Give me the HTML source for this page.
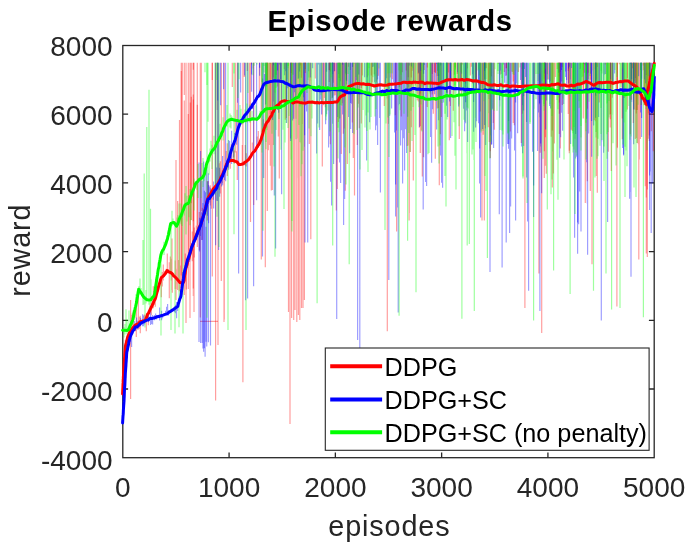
<!DOCTYPE html>
<html><head><meta charset="utf-8"><style>
html,body{margin:0;padding:0;background:#fff;}
body{width:692px;height:545px;overflow:hidden;position:relative;}
svg{position:absolute;left:0;top:0;will-change:transform;}
text{font-family:"Liberation Sans",sans-serif;}
</style></head><body>
<svg width="692" height="545" viewBox="0 0 692 545">
<rect x="0" y="0" width="692" height="545" fill="#fff"/>
<defs><filter id="bl" x="0" y="0" width="1" height="1"><feGaussianBlur stdDeviation="0.75 0.2"/></filter><clipPath id="c"><rect x="122.8" y="45.5" width="531.40" height="412.20"/></clipPath></defs>
<rect x="122.8" y="45.5" width="531.40" height="412.20" fill="none" stroke="#262626" stroke-width="1.3"/>
<path d="M229.08 457.70V452.40M229.08 45.50V50.80M335.36 457.70V452.40M335.36 45.50V50.80M441.64 457.70V452.40M441.64 45.50V50.80M547.92 457.70V452.40M547.92 45.50V50.80M122.80 389.00H128.10M654.20 389.00H648.90M122.80 320.30H128.10M654.20 320.30H648.90M122.80 251.60H128.10M654.20 251.60H648.90M122.80 182.90H128.10M654.20 182.90H648.90M122.80 114.20H128.10M654.20 114.20H648.90" stroke="#262626" stroke-width="1.3" fill="none"/>
<g clip-path="url(#c)"><g filter="url(#bl)" fill="none" stroke-width="1.2">
<path stroke="#f00" stroke-opacity="0.38" d="M123.3 370.4V384.1M124.3 357.1V371.8M125.3 340.0V353.1M126.3 341.7V345.9M129.3 332.1V334.4M130.3 330.1V334.7M131.3 314.9V335.5M132.3 313.6V328.1M133.3 312.2V327.3M135.3 324.7V331.2M136.3 307.6V337.0M137.3 323.7V324.2M138.3 296.5V329.5M139.3 316.7V328.8M140.3 315.8V333.3M142.3 319.6V322.7M144.3 314.6V322.1M145.3 317.5V321.3M146.3 315.8V331.3M148.3 310.7V325.2M150.3 305.8V309.6M151.3 302.8V315.2M152.3 301.6V306.8M153.3 286.3V308.2M154.3 296.6V304.9M155.3 294.5V306.7M156.3 288.3V297.5M159.3 282.5V285.6M161.3 277.1V297.2M162.3 272.0V286.6M163.3 264.5V280.4M164.3 271.0V277.1M165.3 271.4V274.3M166.3 268.7V274.0M167.3 253.6V273.0M168.3 269.4V272.9M169.3 262.2V298.3M170.3 256.6V274.1M171.3 258.7V280.5M172.3 272.6V292.8M175.3 260.4V289.1M176.3 268.7V289.1M177.3 270.1V284.3M178.3 260.0V281.0M179.3 280.2V291.2M180.3 265.6V291.8M185.3 253.4V281.4M186.3 257.4V289.6M192.3 231.4V261.3M194.3 227.4V257.4M196.3 225.5V239.8M199.3 212.0V250.2M202.3 207.8V239.9M207.3 181.1V220.6M208.3 181.1V204.1M210.3 185.2V205.4M211.3 192.1V208.7M213.3 186.7V199.7M219.3 163.2V190.1M220.3 161.2V193.6M222.3 170.5V183.2M226.3 151.0V166.2M227.3 143.2V175.9M228.3 159.1V167.7M230.3 156.8V168.8M231.3 144.2V160.5M233.3 147.9V161.9M234.3 150.4V163.8M236.3 151.2V163.8M242.3 144.9V165.8M245.3 145.1V165.5M246.3 153.2V166.4M252.3 142.4V154.8M257.3 136.4V148.4M258.3 131.0V147.9M260.3 138.4V142.9M263.3 119.3V132.2M172.0 238.4V290.0M177.6 201.0V290.0M181.3 71.0V285.0M179.5 120.0V290.0M176.0 160.0V300.0M130.6 300.0V398.9M200 321.3H218"/>
<path stroke="#f00" stroke-opacity="0.38" d="M181.3 62.7V275.6M182.3 62.7V290.1M184.3 62.7V95.1M188.3 62.7V265.5M190.3 62.7V164.6M191.3 62.7V203.3M193.3 62.7V296.0M197.3 62.7V225.6M200.3 62.7V317.4M201.3 62.7V211.3M212.3 62.7V276.5M217.3 62.7V110.1M221.3 62.7V281.0M224.3 62.7V319.5M232.3 62.7V87.0M235.3 62.7V152.5M237.3 62.7V180.1M244.3 62.7V76.9M247.3 62.7V71.0M249.3 62.7V120.7M251.3 62.7V64.6M253.3 62.7V68.5M255.3 62.7V63.0M259.3 62.7V95.7M261.3 62.7V259.4M265.3 62.7V267.2M267.3 62.7V211.0M268.3 62.7V150.3M269.3 62.7V145.0M270.3 62.7V165.8M271.3 62.7V190.4M272.3 62.7V190.1M273.3 62.7V145.1M274.3 62.7V112.4M276.3 62.7V74.9M277.3 62.7V86.6M278.3 62.7V136.6M279.3 62.7V178.4M280.3 62.7V81.0M281.3 62.7V99.8M284.3 62.7V69.2M285.3 62.7V119.8M286.3 62.7V117.9M291.3 62.7V102.1M293.3 62.7V73.9M296.3 62.7V118.8M297.3 62.7V138.5M298.3 62.7V177.8M299.3 62.7V77.7M300.3 62.7V68.4M301.3 62.7V143.5M302.3 62.7V123.9M305.3 62.7V105.5M309.3 62.7V143.9M310.3 62.7V80.6M315.3 62.7V78.4M322.3 62.7V166.5M323.3 62.7V105.3M324.3 62.7V97.9M325.3 62.7V107.2M329.3 62.7V82.0M330.3 62.7V144.3M332.3 62.7V98.1M333.3 62.7V82.8M334.3 62.7V95.5M335.3 62.7V95.2M336.3 62.7V210.4M337.3 62.7V189.0M338.3 62.7V122.1M339.3 62.7V118.5M340.3 62.7V81.3M341.3 62.7V153.9M342.3 62.7V103.2M343.3 62.7V133.8M344.3 62.7V128.6M345.3 62.7V190.8M346.3 62.7V88.8M347.3 62.7V164.1M348.3 62.7V66.7M350.3 62.7V70.1M352.3 62.7V122.4M353.3 62.7V158.0M354.3 62.7V97.4M355.3 62.7V84.3M356.3 62.7V92.7M357.3 62.7V144.9M358.3 62.7V103.7M359.3 62.7V128.3M361.3 62.7V123.5M362.3 62.7V75.4M367.3 62.7V77.2M371.3 62.7V95.3M372.3 62.7V82.4M374.3 62.7V74.3M376.3 62.7V81.7M378.3 62.7V75.7M384.3 62.7V106.1M388.3 62.7V123.7M390.3 62.7V77.5M392.3 62.7V79.2M395.3 62.7V115.2M399.3 62.7V87.3M400.3 62.7V83.7M401.3 62.7V116.5M402.3 62.7V72.2M406.3 62.7V82.3M407.3 62.7V145.9M408.3 62.7V145.6M409.3 62.7V212.9M410.3 62.7V152.0M411.3 62.7V127.2M412.3 62.7V70.8M413.3 62.7V180.4M414.3 62.7V79.9M415.3 62.7V85.4M417.3 62.7V100.2M418.3 62.7V101.5M419.3 62.7V127.8M420.3 62.7V152.9M421.3 62.7V130.4M422.3 62.7V176.4M423.3 62.7V156.9M424.3 62.7V70.1M427.3 62.7V107.0M430.3 62.7V97.0M431.3 62.7V83.1M432.3 62.7V94.6M433.3 62.7V113.8M434.3 62.7V71.9M435.3 62.7V158.7M437.3 62.7V108.5M438.3 62.7V108.1M439.3 62.7V185.3M440.3 62.7V134.2M441.3 62.7V117.1M447.3 62.7V93.3M448.3 62.7V81.7M449.3 62.7V140.3M450.3 62.7V105.9M451.3 62.7V79.7M453.3 62.7V110.7M454.3 62.7V74.7M455.3 62.7V69.8M457.3 62.7V82.3M459.3 62.7V139.0M460.3 62.7V91.0M461.3 62.7V94.0M462.3 62.7V64.6M466.3 62.7V78.6M467.3 62.7V68.2M470.3 62.7V75.4M471.3 62.7V66.7M475.3 62.7V81.3M476.3 62.7V93.7M480.3 62.7V111.6M481.3 62.7V130.7M483.3 62.7V134.8M484.3 62.7V132.9M485.3 62.7V128.4M486.3 62.7V68.2M488.3 62.7V127.2M489.3 62.7V141.9M490.3 62.7V157.9M491.3 62.7V76.3M493.3 62.7V123.1M494.3 62.7V129.8M498.3 62.7V64.1M500.3 62.7V74.4M504.3 62.7V72.1M506.3 62.7V75.6M508.3 62.7V70.8M510.3 62.7V131.4M512.3 62.7V72.1M513.3 62.7V122.9M514.3 62.7V125.3M518.3 62.7V71.9M521.3 62.7V143.1M522.3 62.7V113.8M534.3 62.7V94.2M540.3 62.7V152.8M544.3 62.7V178.0M545.3 62.7V165.7M546.3 62.7V173.8M547.3 62.7V74.2M548.3 62.7V79.4M550.3 62.7V80.9M551.3 62.7V136.8M552.3 62.7V187.5M553.3 62.7V173.5M554.3 62.7V143.6M555.3 62.7V77.0M557.3 62.7V69.0M558.3 62.7V92.8M559.3 62.7V134.0M560.3 62.7V148.5M562.3 62.7V104.9M568.3 62.7V113.9M569.3 62.7V153.3M570.3 62.7V79.5M571.3 62.7V129.7M572.3 62.7V131.1M580.3 62.7V68.8M583.3 62.7V118.6M584.3 62.7V72.8M585.3 62.7V203.1M587.3 62.7V181.2M588.3 62.7V79.2M590.3 62.7V191.0M592.3 62.7V70.6M594.3 62.7V120.1M595.3 62.7V121.2M596.3 62.7V176.0M597.3 62.7V192.8M599.3 62.7V102.6M605.3 62.7V64.6M606.3 62.7V83.5M608.3 62.7V151.8M610.3 62.7V127.4M611.3 62.7V171.0M612.3 62.7V97.7M617.3 62.7V148.3M619.3 62.7V64.2M622.3 62.7V139.3M624.3 62.7V98.1M627.3 62.7V109.6M630.3 62.7V134.2M631.3 62.7V99.8M632.3 62.7V85.8M633.3 62.7V123.0M634.3 62.7V109.6M635.3 62.7V139.1M636.3 62.7V137.9M637.3 62.7V143.0M638.3 62.7V144.3M639.3 62.7V159.4M640.3 62.7V139.1M641.3 62.7V105.1M643.3 62.7V70.2M644.3 62.7V105.3M645.3 62.7V186.3M646.3 62.7V197.4M647.3 62.7V257.0M648.3 62.7V138.7M649.3 62.7V141.0M650.3 62.7V77.2M651.3 62.7V131.3M653.3 62.7V151.2M186.0 62.7V323.0M218.0 62.7V345.0M224.0 62.7V322.0M190.0 62.7V318.0M194.0 62.7V312.0M288.5 62.7V312.0M291.6 62.7V318.0M295.0 62.7V310.0M298.4 62.7V315.0M299.8 62.7V320.0M304.4 62.7V300.0M250.5 62.7V222.0M253.7 62.7V205.0M290.0 62.7V424.0M293.7 62.7V320.0M296.8 62.7V322.0M301.5 62.7V308.0M303.0 62.7V308.0M310.8 62.7V239.3M354.5 62.7V195.6M387.3 62.7V331.3M396.6 62.7V231.5M409.1 62.7V220.6M482.0 62.7V220.6M484.3 62.7V220.6M524.9 62.7V308.0M538.9 62.7V273.6M541.7 62.7V332.9M592.0 62.7V264.2M616.9 62.7V306.4M638.8 62.7V259.6M215.6 62.7V400.4M242.9 62.7V382.2"/>
<path stroke="#f00" stroke-opacity="0.38" d="M193.3 62.7V69.7M212.3 62.7V79.9M251.3 62.7V63.2M267.3 62.7V81.1M270.3 62.7V114.6M272.3 62.7V79.5M273.3 62.7V77.5M291.3 62.7V84.4M300.3 62.7V65.4M301.3 62.7V77.7M305.3 62.7V72.9M329.3 62.7V70.3M330.3 62.7V71.4M334.3 62.7V71.4M339.3 62.7V77.9M342.3 62.7V87.8M346.3 62.7V79.7M361.3 62.7V88.0M371.3 62.7V75.5M406.3 62.7V70.6M408.3 62.7V77.3M411.3 62.7V77.4M418.3 62.7V73.8M419.3 62.7V84.4M420.3 62.7V125.9M421.3 62.7V84.2M427.3 62.7V67.5M432.3 62.7V74.0M435.3 62.7V73.1M437.3 62.7V76.0M447.3 62.7V82.0M448.3 62.7V72.6M455.3 62.7V67.6M457.3 62.7V74.0M461.3 62.7V87.3M476.3 62.7V87.9M483.3 62.7V81.4M485.3 62.7V68.3M488.3 62.7V86.1M490.3 62.7V151.3M506.3 62.7V68.4M513.3 62.7V81.5M522.3 62.7V69.1M544.3 62.7V151.2M545.3 62.7V137.3M552.3 62.7V130.5M559.3 62.7V113.8M560.3 62.7V92.9M562.3 62.7V67.3M568.3 62.7V84.0M569.3 62.7V150.8M583.3 62.7V90.7M584.3 62.7V64.2M587.3 62.7V108.7M588.3 62.7V72.8M590.3 62.7V79.8M595.3 62.7V69.5M596.3 62.7V79.4M597.3 62.7V66.9M610.3 62.7V119.3M612.3 62.7V84.9M617.3 62.7V147.4M622.3 62.7V118.5M627.3 62.7V78.1M631.3 62.7V83.8M632.3 62.7V68.2M634.3 62.7V87.0M635.3 62.7V77.9M636.3 62.7V113.5M637.3 62.7V110.1M643.3 62.7V65.4M644.3 62.7V105.0M646.3 62.7V253.6M647.3 62.7V189.4M648.3 62.7V113.3M649.3 62.7V135.5"/>
<path stroke="#f00" stroke-opacity="0.38" d="M188.3 114.1V289.1M190.3 102.4V252.8M193.3 94.6V288.5M197.3 104.8V246.9M267.3 62.7V81.1M291.3 62.7V73.0M305.3 62.7V69.2M329.3 62.7V70.0M346.3 62.7V75.3M420.3 62.7V93.5M435.3 62.7V72.5M476.3 62.7V81.1M506.3 62.7V68.1M544.3 62.7V78.8M545.3 62.7V95.4M559.3 62.7V102.5M560.3 62.7V71.9M568.3 62.7V71.0M610.3 62.7V114.1M617.3 62.7V90.5M634.3 62.7V80.9M636.3 62.7V110.0M646.3 62.7V75.0M649.3 62.7V114.5"/>
<path stroke="#f00" stroke-opacity="0.38" d="M184.3 100.6V295.0M191.3 96.7V220.0M193.3 99.4V221.3M305.3 62.7V64.1M559.3 62.7V76.5M610.3 62.7V87.4M649.3 62.7V68.5"/>
<path stroke="#00f" stroke-opacity="0.38" d="M124.6 386.7V388.1M125.6 363.9V377.7M126.6 351.4V362.3M128.6 342.9V345.2M130.6 333.5V342.0M131.6 331.7V347.0M132.6 329.0V334.4M134.6 321.1V330.6M135.6 325.9V330.7M136.6 317.5V328.8M137.6 320.8V329.4M139.6 321.8V325.9M140.6 317.7V326.2M141.6 320.6V322.9M142.6 314.2V326.3M143.6 315.4V326.3M144.6 319.1V324.5M145.6 317.4V321.7M147.6 319.5V320.8M148.6 314.0V322.3M150.6 309.2V325.0M151.6 317.4V323.9M152.6 314.9V324.5M154.6 315.0V320.3M155.6 313.6V318.8M156.6 315.1V319.4M157.6 315.4V318.2M158.6 314.8V316.8M159.6 307.6V320.6M160.6 315.4V316.7M161.6 310.7V320.3M162.6 315.3V318.2M163.6 314.2V316.1M165.6 310.8V314.0M166.6 306.7V314.8M167.6 304.0V313.8M168.6 310.0V315.5M171.6 309.2V312.4M174.6 306.3V312.2M175.6 304.8V313.2M176.6 302.0V318.3M177.6 302.0V311.0M178.6 302.2V305.8M179.6 299.4V304.2M181.6 286.5V294.8M182.6 272.1V285.4M183.6 275.8V279.1M184.6 265.5V271.9M186.6 263.4V267.8M189.6 251.2V261.8M190.6 250.8V252.0M192.6 244.4V245.7M193.6 240.6V245.9M194.6 239.0V242.9M195.6 232.6V239.3M196.6 231.2V235.7M197.6 226.4V237.1M199.6 217.8V251.6M200.6 217.8V236.0M201.6 212.2V239.9M204.6 211.9V214.4M205.6 192.2V214.1M207.6 181.5V215.8M208.6 185.0V223.3M209.6 186.5V202.4M213.6 181.6V208.6M216.6 167.6V200.7M219.6 167.8V196.7M221.6 177.5V186.5M222.6 155.9V185.2M224.6 168.8V179.9M226.6 160.6V168.5M227.6 159.7V163.4M228.6 140.1V169.7M229.6 141.0V159.9M230.6 151.9V158.3M231.6 130.8V163.9M233.6 140.4V157.6M234.6 133.1V142.0M236.6 121.6V144.7M239.6 120.5V124.2M243.6 115.8V122.2M249.6 105.8V111.2M252.6 101.8V108.9M255.6 97.8V101.7M257.6 95.7V98.3M262.6 78.6V88.4M264.6 74.0V84.0"/>
<path stroke="#00f" stroke-opacity="0.38" d="M215.6 62.7V245.3M217.6 62.7V200.9M218.6 62.7V250.1M220.6 62.7V105.3M223.6 62.7V89.2M225.6 62.7V181.3M237.6 62.7V102.8M238.6 62.7V273.4M240.6 62.7V92.4M244.6 62.7V75.5M245.6 62.7V300.2M247.6 62.7V298.5M251.6 62.7V91.7M253.6 62.7V286.2M256.6 62.7V200.3M259.6 62.7V75.7M261.6 62.7V63.0M263.6 62.7V178.1M265.6 62.7V104.6M266.6 62.7V86.4M272.6 62.7V120.1M273.6 62.7V101.6M275.6 62.7V102.3M276.6 62.7V79.3M277.6 62.7V110.1M278.6 62.7V112.8M279.6 62.7V64.4M280.6 62.7V80.6M281.6 62.7V194.2M284.6 62.7V75.3M285.6 62.7V71.2M286.6 62.7V122.9M287.6 62.7V88.3M290.6 62.7V141.0M292.6 62.7V120.4M293.6 62.7V118.8M294.6 62.7V92.3M295.6 62.7V99.9M298.6 62.7V78.5M299.6 62.7V71.6M303.6 62.7V101.2M304.6 62.7V146.7M306.6 62.7V111.4M307.6 62.7V95.9M308.6 62.7V71.2M310.6 62.7V77.5M312.6 62.7V68.3M316.6 62.7V153.6M317.6 62.7V123.6M318.6 62.7V64.4M319.6 62.7V130.1M320.6 62.7V99.5M321.6 62.7V114.5M323.6 62.7V86.4M325.6 62.7V124.2M326.6 62.7V114.2M328.6 62.7V147.4M329.6 62.7V136.2M330.6 62.7V181.8M331.6 62.7V205.5M332.6 62.7V123.8M333.6 62.7V164.0M334.6 62.7V71.1M337.6 62.7V117.1M338.6 62.7V74.3M339.6 62.7V162.4M340.6 62.7V182.9M342.6 62.7V114.6M343.6 62.7V124.6M344.6 62.7V198.9M345.6 62.7V73.4M346.6 62.7V84.5M348.6 62.7V117.1M349.6 62.7V153.2M350.6 62.7V128.9M351.6 62.7V103.8M352.6 62.7V133.1M355.6 62.7V90.8M356.6 62.7V79.9M357.6 62.7V125.0M358.6 62.7V74.6M364.6 62.7V77.2M366.6 62.7V160.6M367.6 62.7V91.4M369.6 62.7V122.2M372.6 62.7V67.0M373.6 62.7V66.4M374.6 62.7V82.3M375.6 62.7V130.3M376.6 62.7V125.5M377.6 62.7V144.9M379.6 62.7V118.1M385.6 62.7V86.4M386.6 62.7V78.3M389.6 62.7V116.1M391.6 62.7V108.4M393.6 62.7V82.1M394.6 62.7V132.4M395.6 62.7V216.5M396.6 62.7V130.6M397.6 62.7V207.4M398.6 62.7V105.3M399.6 62.7V104.1M400.6 62.7V145.5M401.6 62.7V130.2M402.6 62.7V183.4M403.6 62.7V138.3M404.6 62.7V170.6M405.6 62.7V129.2M406.6 62.7V153.1M407.6 62.7V116.7M408.6 62.7V87.6M409.6 62.7V65.4M411.6 62.7V66.5M413.6 62.7V82.6M418.6 62.7V72.7M419.6 62.7V127.1M420.6 62.7V80.0M423.6 62.7V157.6M424.6 62.7V64.9M425.6 62.7V182.0M426.6 62.7V185.9M430.6 62.7V136.9M431.6 62.7V162.8M432.6 62.7V109.3M434.6 62.7V94.3M436.6 62.7V129.6M437.6 62.7V71.1M438.6 62.7V120.3M439.6 62.7V99.4M440.6 62.7V155.6M441.6 62.7V182.8M442.6 62.7V187.8M443.6 62.7V102.4M446.6 62.7V105.7M447.6 62.7V117.1M449.6 62.7V101.5M450.6 62.7V138.0M457.6 62.7V72.3M458.6 62.7V106.6M460.6 62.7V78.0M461.6 62.7V73.7M463.6 62.7V108.8M464.6 62.7V131.2M465.6 62.7V123.3M466.6 62.7V110.5M467.6 62.7V142.1M472.6 62.7V83.6M473.6 62.7V131.7M475.6 62.7V127.4M476.6 62.7V121.2M478.6 62.7V123.3M479.6 62.7V183.6M480.6 62.7V217.6M482.6 62.7V128.9M484.6 62.7V124.9M485.6 62.7V145.1M490.6 62.7V135.6M491.6 62.7V144.7M492.6 62.7V108.7M493.6 62.7V148.0M499.6 62.7V106.6M500.6 62.7V70.4M501.6 62.7V74.0M503.6 62.7V64.5M504.6 62.7V82.8M505.6 62.7V76.1M506.6 62.7V75.5M507.6 62.7V143.9M508.6 62.7V148.7M509.6 62.7V233.0M510.6 62.7V206.5M511.6 62.7V138.4M514.6 62.7V150.6M515.6 62.7V220.5M516.6 62.7V83.3M517.6 62.7V133.2M520.6 62.7V80.0M521.6 62.7V146.5M522.6 62.7V153.2M523.6 62.7V145.9M524.6 62.7V69.1M525.6 62.7V76.9M526.6 62.7V177.5M527.6 62.7V221.5M532.6 62.7V151.7M533.6 62.7V216.9M534.6 62.7V84.2M537.6 62.7V151.0M538.6 62.7V112.5M539.6 62.7V117.2M540.6 62.7V146.6M541.6 62.7V193.3M542.6 62.7V84.0M544.6 62.7V73.6M545.6 62.7V129.4M546.6 62.7V100.6M547.6 62.7V79.4M549.6 62.7V105.9M550.6 62.7V108.4M558.6 62.7V72.7M559.6 62.7V157.8M560.6 62.7V137.3M561.6 62.7V112.7M562.6 62.7V130.7M563.6 62.7V103.9M565.6 62.7V76.9M566.6 62.7V84.6M568.6 62.7V83.5M569.6 62.7V66.8M570.6 62.7V143.9M571.6 62.7V68.0M573.6 62.7V177.4M574.6 62.7V237.8M575.6 62.7V158.6M576.6 62.7V156.7M577.6 62.7V253.8M578.6 62.7V224.2M579.6 62.7V191.5M583.6 62.7V64.0M584.6 62.7V84.4M585.6 62.7V83.5M586.6 62.7V162.3M587.6 62.7V254.7M588.6 62.7V133.4M590.6 62.7V73.8M591.6 62.7V156.8M593.6 62.7V125.6M595.6 62.7V117.8M596.6 62.7V85.4M598.6 62.7V117.0M599.6 62.7V93.8M601.6 62.7V141.4M603.6 62.7V152.8M604.6 62.7V74.4M605.6 62.7V73.9M607.6 62.7V131.6M610.6 62.7V79.2M612.6 62.7V83.3M613.6 62.7V84.6M614.6 62.7V73.4M622.6 62.7V148.0M623.6 62.7V155.6M629.6 62.7V198.8M630.6 62.7V191.9M631.6 62.7V102.1M633.6 62.7V144.3M635.6 62.7V82.9M638.6 62.7V76.2M640.6 62.7V112.5M641.6 62.7V136.9M644.6 62.7V79.5M645.6 62.7V83.2M649.6 62.7V210.0M650.6 62.7V171.6M652.6 62.7V183.2M653.6 62.7V68.6M199.0 162.5V342.0M200.6 150.9V343.0M202.2 180.8V343.0M203.6 161.4V351.7M205.1 169.4V356.8M206.7 166.9V346.4M208.4 173.3V342.3M210.5 188.2V345.5M262.5 62.7V256.4M274.3 62.7V195.6M275.6 62.7V248.6M305.0 62.7V242.4M307.7 62.7V242.4M336.7 62.7V318.9M343.6 62.7V225.0M357.6 62.7V340.0M359.8 62.7V350.0M380.4 62.7V192.5M388.8 62.7V280.0M398.2 62.7V312.6M423.2 62.7V209.6M490.0 62.7V272.0M499.3 62.7V214.3M502.1 62.7V267.4M506.2 62.7V242.4M528.6 62.7V290.8M539.9 62.7V311.0M581.0 62.7V231.5M587.3 62.7V203.4M601.3 62.7V320.4M607.6 62.7V222.0M631.0 62.7V276.7M651.2 62.7V233.0"/>
<path stroke="#00f" stroke-opacity="0.38" d="M217.6 62.7V100.6M251.6 62.7V74.4M259.6 62.7V67.8M273.6 62.7V65.2M275.6 62.7V79.9M277.6 62.7V70.5M280.6 62.7V78.9M286.6 62.7V102.4M290.6 62.7V138.4M295.6 62.7V85.0M303.6 62.7V97.2M304.6 62.7V135.2M326.6 62.7V71.8M332.6 62.7V97.5M342.6 62.7V64.8M346.6 62.7V81.0M350.6 62.7V103.0M352.6 62.7V66.9M377.6 62.7V79.5M385.6 62.7V83.3M395.6 62.7V184.6M420.6 62.7V70.7M423.6 62.7V73.8M436.6 62.7V64.1M438.6 62.7V83.4M440.6 62.7V65.6M443.6 62.7V81.3M446.6 62.7V93.1M450.6 62.7V79.8M465.6 62.7V102.2M472.6 62.7V74.3M473.6 62.7V102.1M475.6 62.7V79.7M478.6 62.7V84.6M479.6 62.7V148.6M484.6 62.7V79.4M491.6 62.7V144.2M499.6 62.7V100.2M508.6 62.7V143.9M515.6 62.7V102.5M522.6 62.7V105.3M523.6 62.7V110.5M526.6 62.7V121.9M533.6 62.7V185.6M539.6 62.7V104.2M540.6 62.7V143.6M544.6 62.7V68.4M545.6 62.7V85.6M549.6 62.7V82.5M560.6 62.7V86.9M561.6 62.7V81.6M565.6 62.7V71.5M566.6 62.7V80.0M568.6 62.7V68.4M573.6 62.7V84.2M575.6 62.7V134.0M577.6 62.7V222.4M585.6 62.7V65.3M586.6 62.7V118.8M591.6 62.7V120.9M595.6 62.7V95.8M622.6 62.7V90.0M623.6 62.7V154.4M630.6 62.7V63.9M631.6 62.7V79.1M633.6 62.7V109.5M640.6 62.7V70.1M641.6 62.7V118.1M649.6 62.7V175.6M202.9 202.9V348.6M204.4 190.7V348.2M206.0 226.7V341.8"/>
<path stroke="#00f" stroke-opacity="0.38" d="M332.6 62.7V74.2M438.6 62.7V76.1M446.6 62.7V92.1M450.6 62.7V78.3M465.6 62.7V83.4M484.6 62.7V71.0M508.6 62.7V120.9M522.6 62.7V85.3M523.6 62.7V96.2M539.6 62.7V102.9M561.6 62.7V69.9M573.6 62.7V84.1M586.6 62.7V93.8M591.6 62.7V82.7M595.6 62.7V82.9M633.6 62.7V90.2M641.6 62.7V78.7"/>
<path stroke="#00f" stroke-opacity="0.38" d="M332.6 62.7V63.8M484.6 62.7V70.3M523.6 62.7V93.2M586.6 62.7V74.2"/>
<path stroke="#0f0" stroke-opacity="0.38" d="M124.0 327.1V337.5M125.0 323.9V334.5M126.0 309.2V330.8M127.0 319.5V334.3M128.0 328.0V330.4M129.0 310.4V337.9M131.0 321.5V326.4M133.0 310.6V324.9M134.0 313.8V319.7M135.0 306.4V317.7M136.0 294.3V306.9M137.0 296.3V303.6M138.0 288.2V295.4M139.0 285.9V295.1M140.0 278.6V294.3M141.0 287.9V293.3M143.0 281.2V297.2M144.0 289.1V304.4M145.0 296.6V327.5M146.0 290.1V303.4M149.0 293.5V304.8M150.0 298.3V308.2M151.0 279.3V303.5M156.0 277.5V294.5M157.0 277.2V284.7M158.0 269.5V272.3M160.0 259.4V261.4M161.0 251.6V335.5M164.0 241.8V255.1M169.0 228.2V236.7M170.0 223.0V234.5M171.0 222.3V330.1M172.0 210.7V226.0M173.0 218.5V224.0M174.0 222.7V223.9M175.0 223.7V333.6M177.0 217.6V226.5M178.0 214.9V225.0M179.0 203.6V327.2M180.0 213.6V222.6M181.0 203.6V224.2M182.0 209.0V226.1M183.0 206.3V333.5M184.0 203.7V215.6M185.0 193.2V206.6M186.0 186.0V234.6M187.0 195.8V221.5M189.0 195.0V217.3M190.0 189.1V225.2M191.0 189.4V220.3M194.0 178.6V210.5M197.0 181.2V190.1M198.0 164.1V197.9M201.0 176.3V198.0M202.0 162.9V179.2M203.0 158.1V187.0M204.0 170.2V181.2M209.0 153.8V174.7M210.0 148.6V161.5M211.0 140.7V154.2M212.0 144.8V168.9M214.0 135.7V154.2M220.0 123.7V138.7M223.0 117.3V140.4M227.0 104.9V126.5M230.0 113.4V127.5M231.0 114.9V128.5M232.0 116.6V120.8M237.0 109.7V120.5M240.0 105.1V127.3M241.0 108.8V122.2M242.0 116.4V124.5M243.0 119.0V123.8M245.0 109.5V121.6M247.0 103.5V122.5M250.0 104.6V122.7M252.0 110.9V120.9M256.0 105.2V119.5M260.0 110.8V115.5M144.2 173.4V300.0M146.8 127.0V300.0M149.0 89.7V300.0M150.5 208.7V300.0M143.0 240.0V305.0"/>
<path stroke="#0f0" stroke-opacity="0.38" d="M205.0 62.7V72.2M207.0 62.7V317.8M208.0 62.7V121.8M215.0 62.7V194.7M217.0 62.7V216.7M219.0 62.7V247.0M234.0 62.7V234.2M238.0 62.7V97.9M239.0 62.7V79.3M244.0 62.7V63.0M248.0 62.7V93.1M253.0 62.7V75.3M254.0 62.7V65.8M255.0 62.7V63.0M257.0 62.7V64.5M262.0 62.7V152.4M263.0 62.7V230.8M264.0 62.7V72.6M266.0 62.7V149.2M267.0 62.7V130.0M269.0 62.7V110.3M270.0 62.7V64.1M272.0 62.7V133.8M274.0 62.7V166.6M275.0 62.7V256.7M276.0 62.7V130.1M279.0 62.7V118.9M281.0 62.7V149.7M283.0 62.7V129.7M284.0 62.7V208.9M285.0 62.7V142.5M286.0 62.7V123.0M287.0 62.7V79.3M288.0 62.7V127.9M289.0 62.7V116.1M291.0 62.7V159.8M292.0 62.7V231.6M293.0 62.7V75.0M296.0 62.7V139.3M297.0 62.7V100.5M298.0 62.7V78.8M299.0 62.7V124.9M300.0 62.7V142.3M301.0 62.7V176.3M302.0 62.7V164.2M303.0 62.7V150.8M305.0 62.7V71.4M307.0 62.7V93.1M308.0 62.7V80.0M309.0 62.7V128.5M311.0 62.7V136.3M312.0 62.7V118.5M314.0 62.7V103.4M319.0 62.7V127.4M321.0 62.7V95.3M322.0 62.7V103.7M326.0 62.7V120.2M328.0 62.7V110.4M330.0 62.7V131.4M331.0 62.7V98.4M332.0 62.7V78.7M333.0 62.7V64.4M338.0 62.7V158.5M339.0 62.7V132.2M340.0 62.7V118.6M341.0 62.7V105.2M342.0 62.7V105.8M345.0 62.7V147.5M346.0 62.7V184.6M348.0 62.7V74.0M350.0 62.7V88.9M353.0 62.7V96.3M354.0 62.7V134.2M356.0 62.7V76.9M357.0 62.7V130.1M358.0 62.7V107.5M360.0 62.7V169.6M362.0 62.7V149.9M363.0 62.7V110.1M365.0 62.7V127.4M366.0 62.7V115.6M367.0 62.7V130.9M368.0 62.7V171.9M369.0 62.7V84.0M370.0 62.7V129.6M371.0 62.7V117.0M372.0 62.7V85.6M373.0 62.7V77.3M374.0 62.7V87.2M375.0 62.7V116.6M376.0 62.7V108.9M377.0 62.7V87.6M379.0 62.7V68.6M385.0 62.7V120.4M386.0 62.7V123.4M387.0 62.7V98.4M388.0 62.7V117.4M389.0 62.7V156.9M390.0 62.7V114.6M392.0 62.7V73.5M399.0 62.7V130.8M400.0 62.7V110.2M401.0 62.7V79.6M402.0 62.7V83.9M404.0 62.7V113.7M407.0 62.7V90.9M409.0 62.7V133.0M410.0 62.7V151.9M411.0 62.7V110.7M412.0 62.7V141.1M413.0 62.7V107.1M415.0 62.7V135.0M417.0 62.7V93.7M419.0 62.7V107.3M421.0 62.7V104.6M422.0 62.7V131.5M423.0 62.7V83.6M424.0 62.7V98.6M428.0 62.7V154.2M429.0 62.7V153.1M430.0 62.7V93.6M431.0 62.7V81.5M433.0 62.7V63.8M438.0 62.7V146.4M439.0 62.7V163.4M440.0 62.7V145.4M441.0 62.7V79.9M442.0 62.7V103.1M443.0 62.7V84.8M445.0 62.7V175.9M447.0 62.7V119.6M449.0 62.7V64.3M451.0 62.7V70.7M452.0 62.7V135.9M454.0 62.7V122.3M455.0 62.7V155.7M458.0 62.7V78.3M459.0 62.7V126.3M461.0 62.7V87.1M463.0 62.7V92.4M464.0 62.7V119.7M465.0 62.7V121.8M467.0 62.7V153.2M468.0 62.7V108.4M469.0 62.7V90.1M472.0 62.7V154.6M473.0 62.7V149.5M474.0 62.7V160.0M475.0 62.7V117.7M476.0 62.7V142.1M478.0 62.7V70.6M479.0 62.7V75.5M480.0 62.7V93.5M481.0 62.7V132.4M483.0 62.7V130.7M484.0 62.7V101.2M485.0 62.7V176.1M486.0 62.7V191.1M488.0 62.7V113.3M489.0 62.7V99.1M490.0 62.7V158.6M491.0 62.7V141.8M492.0 62.7V110.1M494.0 62.7V110.8M495.0 62.7V69.2M497.0 62.7V110.7M498.0 62.7V74.1M500.0 62.7V129.9M502.0 62.7V130.6M503.0 62.7V146.6M508.0 62.7V133.7M509.0 62.7V139.4M512.0 62.7V71.4M513.0 62.7V74.3M514.0 62.7V74.9M516.0 62.7V70.4M518.0 62.7V91.6M520.0 62.7V67.4M523.0 62.7V178.5M527.0 62.7V202.9M530.0 62.7V124.1M532.0 62.7V91.6M534.0 62.7V108.8M536.0 62.7V99.3M538.0 62.7V81.1M540.0 62.7V92.1M542.0 62.7V99.8M543.0 62.7V158.8M544.0 62.7V110.7M545.0 62.7V68.7M550.0 62.7V104.0M551.0 62.7V194.2M552.0 62.7V179.5M553.0 62.7V151.4M554.0 62.7V79.6M557.0 62.7V159.8M558.0 62.7V199.7M559.0 62.7V97.5M563.0 62.7V98.5M564.0 62.7V159.4M570.0 62.7V72.3M573.0 62.7V152.5M574.0 62.7V149.4M575.0 62.7V214.0M576.0 62.7V152.5M577.0 62.7V155.5M579.0 62.7V108.3M580.0 62.7V107.6M581.0 62.7V150.5M582.0 62.7V77.2M583.0 62.7V83.0M586.0 62.7V159.6M589.0 62.7V101.7M590.0 62.7V75.9M595.0 62.7V177.5M596.0 62.7V137.4M597.0 62.7V158.7M598.0 62.7V156.2M600.0 62.7V145.7M601.0 62.7V134.0M602.0 62.7V139.9M604.0 62.7V181.1M607.0 62.7V158.8M608.0 62.7V132.1M609.0 62.7V117.4M610.0 62.7V114.8M612.0 62.7V114.7M613.0 62.7V143.3M615.0 62.7V69.9M616.0 62.7V165.6M617.0 62.7V76.9M621.0 62.7V87.0M623.0 62.7V144.5M624.0 62.7V122.4M625.0 62.7V197.0M626.0 62.7V150.4M627.0 62.7V166.2M629.0 62.7V106.1M630.0 62.7V139.7M631.0 62.7V136.4M632.0 62.7V84.8M634.0 62.7V187.4M636.0 62.7V196.9M637.0 62.7V142.9M638.0 62.7V104.8M641.0 62.7V104.9M644.0 62.7V105.1M645.0 62.7V98.3M646.0 62.7V108.9M647.0 62.7V150.2M648.0 62.7V80.3M649.0 62.7V69.6M650.0 62.7V87.2M228.0 62.7V330.0M246.0 62.7V330.0M317.1 62.7V303.2M332.7 62.7V245.5M349.2 62.7V264.2M385.0 62.7V230.0M399.1 62.7V315.7M407.6 62.7V240.8M416.0 62.7V292.3M446.0 62.7V206.5M456.0 62.7V189.4M461.9 62.7V318.8M467.2 62.7V245.5M469.3 62.7V244.0M474.3 62.7V311.0M487.4 62.7V258.0M533.6 62.7V320.4M547.3 62.7V209.6M553.6 62.7V270.5M570.1 62.7V293.9M593.5 62.7V290.8M606.0 62.7V273.6M611.6 62.7V309.5M620.0 62.7V308.0M643.4 62.7V317.3"/>
<path stroke="#0f0" stroke-opacity="0.38" d="M207.0 62.7V84.9M217.0 62.7V80.0M234.0 62.7V73.5M262.0 62.7V82.1M264.0 62.7V66.0M266.0 62.7V142.0M267.0 62.7V118.6M275.0 62.7V92.4M276.0 62.7V105.8M283.0 62.7V98.7M288.0 62.7V68.2M292.0 62.7V221.0M300.0 62.7V106.4M309.0 62.7V77.6M326.0 62.7V116.4M331.0 62.7V77.2M338.0 62.7V127.8M339.0 62.7V88.5M340.0 62.7V104.8M346.0 62.7V91.0M354.0 62.7V64.0M358.0 62.7V82.1M368.0 62.7V112.5M369.0 62.7V68.3M375.0 62.7V76.3M388.0 62.7V73.5M390.0 62.7V73.2M399.0 62.7V70.3M401.0 62.7V74.7M413.0 62.7V68.3M422.0 62.7V85.6M430.0 62.7V90.7M438.0 62.7V73.7M440.0 62.7V82.9M445.0 62.7V113.8M447.0 62.7V86.6M455.0 62.7V90.0M459.0 62.7V104.6M461.0 62.7V72.3M465.0 62.7V97.1M467.0 62.7V107.4M479.0 62.7V69.2M481.0 62.7V81.3M486.0 62.7V78.9M490.0 62.7V92.3M498.0 62.7V70.9M502.0 62.7V77.9M503.0 62.7V134.6M508.0 62.7V132.8M523.0 62.7V176.6M530.0 62.7V122.2M536.0 62.7V73.9M538.0 62.7V74.1M540.0 62.7V73.5M542.0 62.7V81.2M543.0 62.7V63.8M544.0 62.7V106.3M552.0 62.7V116.1M557.0 62.7V100.1M558.0 62.7V109.2M559.0 62.7V93.0M564.0 62.7V93.9M573.0 62.7V146.5M574.0 62.7V127.1M575.0 62.7V138.8M579.0 62.7V101.2M581.0 62.7V137.5M583.0 62.7V82.5M586.0 62.7V131.2M596.0 62.7V132.1M598.0 62.7V138.7M601.0 62.7V108.1M602.0 62.7V73.6M604.0 62.7V146.4M607.0 62.7V134.3M608.0 62.7V83.0M609.0 62.7V101.1M621.0 62.7V81.1M623.0 62.7V68.4M625.0 62.7V146.8M626.0 62.7V111.7M629.0 62.7V92.7M634.0 62.7V93.5M641.0 62.7V93.9M647.0 62.7V104.8M648.0 62.7V76.0"/>
<path stroke="#0f0" stroke-opacity="0.38" d="M266.0 62.7V86.1M267.0 62.7V83.4M276.0 62.7V88.1M288.0 62.7V66.0M368.0 62.7V75.5M455.0 62.7V87.0M544.0 62.7V104.1M573.0 62.7V133.3M574.0 62.7V110.5M581.0 62.7V126.1M583.0 62.7V76.6M586.0 62.7V122.8M601.0 62.7V70.4M607.0 62.7V103.5M641.0 62.7V87.2"/>
<path stroke="#0f0" stroke-opacity="0.38" d="M455.0 62.7V85.1M583.0 62.7V70.2M586.0 62.7V76.3"/>
</g></g>
<g fill="none" stroke-width="3.0" stroke-linejoin="round" stroke-linecap="round">
<polyline stroke="#f00" points="122.6,394.0 122.7,391.4 122.8,389.2 122.9,387.6 123.0,384.4 123.1,382.9 123.2,380.0 123.3,378.9 123.4,376.4 123.6,374.6 123.7,371.8 123.8,369.9 123.9,367.4 124.0,365.1 124.2,363.2 124.3,360.5 124.5,358.6 124.7,356.8 124.8,354.3 125.0,352.0 125.1,350.7 125.3,347.7 125.6,345.3 126.2,343.5 126.7,341.1 127.2,339.0 127.7,336.8 128.3,335.5 129.4,332.9 130.5,331.1 131.7,329.4 132.8,328.0 134.6,325.9 136.4,324.4 138.1,324.1 140.1,321.8 142.1,321.3 144.1,320.7 145.6,319.7 146.7,316.7 147.6,314.1 148.6,313.2 149.5,310.8 150.4,308.9 151.4,307.1 152.3,305.1 153.2,303.1 154.1,300.8 155.0,299.4 155.7,297.4 156.3,294.8 156.9,292.5 157.5,290.7 158.1,288.5 158.7,285.9 159.3,284.0 159.9,282.4 160.5,279.8 161.3,277.7 162.9,276.4 164.4,274.7 165.8,273.0 167.1,270.5 168.7,271.9 170.6,272.5 172.2,273.7 173.7,275.9 175.3,277.2 176.8,278.7 178.4,280.6 179.9,282.6 181.7,282.7 183.6,282.3 184.0,280.3 184.4,277.0 184.7,275.0 185.1,273.3 185.5,270.2 185.8,268.5 186.3,266.9 186.9,264.7 187.5,262.4 188.1,259.5 188.8,258.8 189.4,256.1 190.0,254.0 190.6,251.8 191.3,248.9 191.9,246.9 192.5,244.9 193.2,243.9 194.0,240.9 194.8,239.0 195.6,236.9 196.4,235.2 197.3,233.1 198.2,231.0 199.0,228.5 199.9,225.8 200.6,224.8 201.3,222.8 202.0,221.0 202.6,218.4 203.3,216.1 204.0,214.4 204.6,211.6 205.1,209.6 205.6,207.5 206.0,205.8 206.5,204.3 206.9,201.6 207.4,199.6 208.4,197.3 209.6,195.5 210.8,193.4 211.9,191.6 213.2,189.0 214.6,187.7 215.9,185.9 217.2,184.9 218.3,182.9 219.3,181.1 220.3,179.3 221.3,176.6 222.3,175.1 223.1,173.4 224.0,170.7 224.9,169.1 225.7,166.6 226.6,164.0 227.5,162.6 229.1,161.0 231.1,160.4 233.2,160.5 235.3,161.4 237.1,161.9 238.9,164.6 241.1,164.4 243.3,163.8 245.0,162.2 246.7,161.2 248.3,159.9 249.6,158.0 250.9,156.2 252.2,153.6 253.4,152.1 254.7,151.1 256.0,148.9 257.3,146.5 258.5,144.9 259.7,142.8 260.4,140.9 261.1,139.6 261.7,137.0 262.3,135.3 263.0,132.9 263.6,130.2 264.2,128.4 264.8,127.3 265.8,124.2 267.0,122.2 268.1,121.2 269.3,118.9 270.4,117.0 271.6,115.6 272.6,112.5 273.6,111.3 274.6,108.8 275.7,106.8 277.2,105.4 278.8,104.6 280.3,102.5 282.4,101.1 284.4,100.7 286.5,101.2 288.7,101.6 290.8,101.4 293.0,103.0 295.2,102.1 297.4,101.9 299.6,102.4 301.8,102.8 304.0,103.1 306.2,102.9 308.4,102.3 310.6,102.3 312.8,102.1 315.0,102.7 317.2,102.6 319.5,102.9 321.7,102.4 323.9,102.7 326.1,102.6 328.3,102.5 330.5,102.5 332.7,102.5 334.8,101.9 337.0,101.9 338.4,100.3 339.5,97.9 340.7,96.6 342.6,95.5 344.6,95.0 345.6,92.5 346.6,90.5 347.6,88.4 348.6,86.7 350.5,85.8 352.6,85.0 354.7,84.0 356.7,83.6 358.9,83.6 361.1,83.9 363.3,83.8 365.5,84.4 367.7,84.3 369.9,84.6 372.1,85.2 374.3,86.0 376.5,85.5 378.7,85.0 380.9,84.8 383.1,85.2 385.3,85.2 387.5,85.0 389.7,84.3 391.9,84.3 394.1,84.0 396.3,83.9 398.5,83.4 400.7,83.3 402.9,82.3 405.1,82.3 407.3,82.8 409.5,82.3 411.7,82.7 413.9,82.0 416.1,82.3 418.3,82.5 420.5,82.0 422.7,82.3 424.9,83.7 427.1,82.7 429.3,83.0 431.5,83.1 433.7,83.3 435.9,83.3 438.1,83.7 440.2,82.9 442.3,81.8 444.4,81.1 446.5,80.1 448.7,79.8 450.9,79.8 453.1,80.0 455.3,79.6 457.5,79.9 459.7,79.9 461.9,79.5 464.1,80.4 466.3,79.6 468.5,79.8 470.7,80.2 472.9,81.0 475.1,80.8 477.2,81.0 479.4,81.8 481.6,82.5 483.7,82.6 485.8,83.4 487.8,84.7 489.9,85.1 492.1,85.3 494.3,84.8 496.5,85.4 498.8,85.5 501.0,84.8 503.2,86.0 505.4,85.7 507.6,85.6 509.8,86.7 512.0,86.0 514.2,85.9 516.4,86.2 518.6,86.5 520.8,86.6 523.0,86.3 525.2,86.0 527.4,86.0 529.6,85.9 531.8,85.7 534.0,86.0 536.3,85.7 538.5,85.7 540.7,85.2 542.9,85.0 545.1,85.2 547.3,85.2 549.5,85.6 551.7,84.6 553.8,84.7 556.0,84.3 558.2,83.8 560.4,85.0 562.5,85.2 564.7,84.9 566.9,86.1 569.1,86.0 571.3,85.3 573.5,86.0 575.7,85.1 577.8,84.1 579.9,84.2 582.1,83.3 584.2,82.4 586.3,81.5 588.4,82.4 590.3,83.1 592.3,84.7 594.2,85.2 596.1,83.8 598.0,82.7 600.0,82.5 602.2,82.7 604.4,82.5 606.6,82.3 608.8,82.2 611.0,82.5 613.2,83.3 615.4,82.6 617.6,82.2 619.8,81.6 622.0,81.8 624.1,81.1 626.3,81.1 628.5,81.0 630.1,82.6 631.7,83.7 633.5,84.9 635.5,86.0 637.3,87.7 638.3,89.1 639.4,90.4 640.4,93.4 641.4,94.9 642.4,98.0 643.4,98.6 644.4,100.7 645.5,102.5 646.6,104.6 646.7,102.0 646.8,99.5 646.9,97.1 647.1,95.6 647.2,93.2 647.3,91.0 647.9,89.8 648.5,87.3 649.1,85.2 649.6,82.5 650.1,80.6 650.5,78.3 651.0,76.1 651.5,74.4 652.2,72.2 652.8,70.0 653.3,67.8 653.8,65.0 654.3,63.4"/>
<polyline stroke="#00f" points="122.6,423.0 122.7,421.0 122.9,418.0 123.0,416.1 123.2,414.2 123.3,412.5 123.4,409.8 123.6,407.0 123.7,405.5 123.9,402.7 124.0,401.4 124.1,398.6 124.2,397.2 124.3,394.3 124.4,391.8 124.5,389.4 124.6,387.6 124.8,385.7 124.9,383.7 125.0,381.2 125.1,378.6 125.2,376.8 125.3,374.0 125.4,372.4 125.6,369.8 125.7,368.4 125.9,366.0 126.0,363.6 126.2,360.9 126.3,359.2 126.5,357.0 126.6,354.4 126.8,352.2 127.2,350.7 127.7,347.9 128.1,346.1 128.6,344.2 129.0,341.1 129.4,340.0 130.0,337.6 130.9,335.1 131.9,333.0 132.9,330.9 133.9,329.7 135.4,326.9 137.1,326.8 138.9,325.1 140.6,323.4 142.4,322.3 144.4,321.3 146.4,320.4 148.4,319.8 150.3,318.2 152.5,318.4 154.6,317.8 156.8,316.8 158.9,316.6 161.1,315.7 163.1,315.1 165.1,314.4 167.1,313.9 169.1,312.2 171.0,311.0 172.8,309.9 174.7,308.6 176.6,307.1 177.8,306.5 178.4,303.5 179.1,301.4 179.7,299.3 180.4,297.6 180.9,296.3 181.2,294.1 181.5,291.2 181.9,288.8 182.2,286.5 182.5,284.0 182.9,282.4 183.2,279.9 183.5,278.5 183.8,275.5 184.2,273.1 184.7,270.6 185.3,268.5 185.8,267.2 186.3,265.0 186.9,262.3 187.4,260.0 188.1,258.6 188.8,256.2 189.5,254.3 190.2,252.2 190.9,249.8 191.6,247.4 192.3,245.9 193.0,243.8 193.9,241.8 194.8,240.1 195.7,238.1 196.5,235.5 197.3,233.8 198.1,230.8 198.9,229.7 199.7,227.4 200.5,225.7 201.1,223.6 201.8,220.8 202.5,219.0 203.1,217.3 203.8,214.6 204.5,212.7 205.0,210.4 205.6,208.6 206.1,206.4 206.6,203.9 207.2,201.5 208.0,199.2 209.4,198.6 210.8,196.4 212.2,194.6 213.4,192.8 214.5,190.8 215.7,189.5 216.9,187.6 217.8,184.6 218.8,183.4 219.8,181.5 220.8,179.4 221.7,177.5 222.6,176.0 223.4,173.5 224.3,171.8 225.1,169.7 226.0,166.7 226.7,165.8 227.4,163.1 228.0,160.9 228.7,159.2 229.4,157.6 230.1,154.4 230.7,152.3 231.3,150.6 232.0,147.7 232.7,145.8 233.5,144.2 234.2,142.3 235.0,140.2 235.6,138.2 236.2,136.1 236.8,133.5 237.4,131.4 238.0,129.2 238.6,127.1 239.2,125.5 240.1,123.4 241.3,120.5 242.5,119.6 243.6,117.1 244.8,115.2 246.0,114.2 247.3,112.5 248.6,110.6 249.9,108.7 251.3,107.3 252.6,104.5 253.9,103.4 255.1,101.0 256.2,99.2 257.4,96.9 258.6,96.2 259.8,94.4 260.7,92.1 261.5,89.5 262.4,87.8 263.3,85.3 264.4,83.7 266.0,82.8 268.0,82.2 270.2,81.6 272.4,81.3 274.6,80.7 276.8,80.9 279.0,81.0 281.2,81.6 283.3,81.8 285.3,83.3 287.3,83.8 289.3,85.0 291.2,85.8 293.3,86.8 295.5,86.5 297.8,85.7 300.0,85.6 302.2,86.1 304.4,85.9 306.6,85.8 308.8,86.0 310.8,87.0 312.5,87.8 314.2,89.8 316.0,90.2 318.2,90.4 320.4,90.7 322.6,90.7 324.8,90.6 327.0,90.1 329.2,90.0 331.4,89.6 333.6,89.5 335.8,89.7 338.0,89.5 340.2,89.7 342.2,90.2 344.2,91.2 346.2,92.3 348.3,92.7 350.5,92.8 352.7,92.2 354.9,92.6 357.1,92.5 359.3,92.8 361.5,92.7 363.7,92.5 365.7,93.7 367.8,94.6 369.9,94.7 372.1,94.7 374.3,94.0 376.4,93.1 378.5,92.8 380.5,92.0 382.6,91.1 384.8,91.7 387.0,90.4 389.2,91.9 391.4,90.3 393.6,90.4 395.8,90.4 397.8,90.7 399.9,92.0 402.0,91.9 404.1,91.0 406.2,89.9 408.3,90.3 410.4,89.8 412.5,88.5 414.6,88.5 416.8,89.2 419.0,89.0 421.2,89.4 423.5,89.4 425.7,89.4 427.9,89.4 430.1,89.7 432.3,89.2 434.5,88.9 436.7,88.4 438.9,87.7 441.1,88.0 443.3,88.1 445.5,88.5 447.7,87.9 449.9,87.2 452.1,88.3 454.3,88.7 456.5,88.5 458.7,88.7 460.9,88.9 463.1,89.0 465.3,89.8 467.5,89.2 469.7,89.5 471.9,89.5 474.1,89.9 476.3,89.9 478.5,90.1 480.7,90.4 482.9,90.7 485.2,89.8 487.4,90.4 489.6,90.1 491.8,90.4 494.0,90.7 496.2,91.2 498.4,90.8 500.6,91.9 502.8,91.4 505.0,91.2 507.2,90.8 509.4,91.5 511.6,91.1 513.8,90.8 516.0,90.4 518.2,90.9 520.4,90.9 522.6,91.1 524.7,90.8 526.9,91.6 529.0,91.7 531.2,92.4 533.4,92.5 535.5,92.9 537.7,93.2 539.9,93.4 542.1,93.3 544.3,93.3 546.6,93.0 548.8,92.9 551.0,92.9 553.2,93.3 555.4,93.4 557.6,93.4 559.7,93.2 561.8,91.3 564.0,91.6 566.2,90.7 568.4,90.8 570.6,90.5 572.8,90.7 575.0,91.0 577.2,91.1 579.4,90.6 581.6,90.9 583.8,90.7 586.0,89.9 588.2,90.5 590.3,89.3 592.5,88.9 594.7,89.0 596.9,89.1 599.0,89.6 601.2,90.5 603.4,90.3 605.6,90.6 607.8,90.4 610.0,90.5 612.2,91.5 614.3,91.2 616.5,90.4 618.6,90.6 620.8,89.7 623.0,90.3 625.2,90.0 627.4,90.2 629.6,90.0 631.8,89.0 633.6,90.9 635.3,91.9 637.3,92.3 639.5,92.3 641.2,91.3 642.6,89.0 643.8,88.8 644.8,91.3 645.6,93.2 646.2,95.2 646.8,97.6 647.4,100.2 648.0,101.4 648.5,103.0 649.1,105.9 649.6,107.6 650.7,110.0 652.0,111.5 652.4,110.1 652.7,108.5 652.9,105.7 653.2,102.9 653.4,100.9 653.6,98.7 653.7,96.4 653.8,94.8 653.8,92.5 653.9,90.6 654.0,88.3 654.0,85.8 654.1,83.4 654.2,81.2 654.2,79.2 654.3,77.0"/>
<polyline stroke="#0f0" points="122.6,330.3 124.8,330.2 127.0,330.5 128.7,329.4 129.5,327.3 130.4,325.1 131.3,323.3 132.1,321.7 132.9,319.4 133.3,317.5 133.8,315.0 134.2,312.9 134.7,310.7 135.2,307.9 135.6,306.6 136.1,304.3 136.6,302.1 137.0,299.2 137.4,297.0 137.7,295.1 138.0,293.1 138.3,291.2 138.7,289.3 139.9,291.3 141.1,292.7 142.3,294.9 143.5,296.8 144.9,298.1 147.0,299.7 149.0,300.1 150.8,299.8 152.3,297.6 153.9,296.0 154.5,294.2 154.9,292.1 155.2,290.1 155.5,287.8 155.8,285.4 156.2,283.0 156.5,281.0 156.8,279.4 157.2,276.5 157.5,274.7 157.8,272.6 158.2,269.7 158.6,268.1 159.0,266.4 159.3,263.0 159.7,261.4 160.1,259.3 160.5,256.9 160.8,255.2 161.5,252.9 162.5,250.5 163.5,249.3 164.4,247.2 165.2,245.3 166.0,243.4 166.7,240.9 167.5,238.8 168.0,236.1 168.5,234.6 168.9,232.0 169.4,229.9 169.9,227.5 170.3,225.4 170.8,223.4 172.4,222.8 174.0,222.4 175.3,224.4 176.5,226.2 177.4,224.6 178.3,222.3 179.2,219.4 180.1,217.1 181.0,216.1 181.7,213.7 182.5,211.4 183.2,210.1 184.0,208.1 184.7,205.7 186.0,204.1 188.1,203.5 189.0,202.0 189.7,199.6 190.4,197.4 191.2,195.4 191.9,192.5 192.6,191.5 193.5,189.3 194.4,187.1 195.3,184.3 196.2,182.7 197.6,181.6 199.4,179.4 201.1,178.5 202.6,177.4 204.0,174.9 204.5,173.8 205.0,171.3 205.5,168.9 206.0,166.9 206.4,164.8 207.1,162.5 207.9,160.8 208.6,158.1 209.4,156.1 210.2,154.6 211.3,152.4 212.6,150.2 213.9,149.1 215.1,147.4 216.1,144.8 217.1,142.5 218.1,141.0 219.1,139.0 220.1,137.0 221.0,135.5 221.8,132.6 222.7,131.4 223.5,128.5 224.4,126.6 225.3,125.1 226.1,123.2 227.4,121.4 229.2,120.0 231.2,119.3 233.3,119.8 235.5,120.3 237.7,120.6 239.8,121.2 241.9,121.9 244.0,120.9 246.0,120.3 248.1,119.6 250.3,119.7 252.5,118.7 254.6,118.9 256.8,119.4 258.2,118.2 259.4,116.7 260.6,114.4 261.7,112.8 263.2,111.7 265.2,109.2 267.1,108.7 269.3,108.6 271.5,108.4 273.6,108.0 275.8,107.4 278.0,107.8 280.2,107.5 282.0,106.0 283.9,105.8 285.7,103.9 287.7,102.5 289.7,101.7 291.6,100.7 293.6,99.7 295.6,97.8 297.5,97.6 298.9,96.5 300.0,93.8 301.1,92.3 302.2,90.7 304.0,89.3 305.8,88.2 307.8,86.7 310.0,87.2 312.2,87.2 314.4,87.5 316.6,87.9 318.8,86.7 321.1,88.2 323.3,87.5 325.5,88.5 327.7,87.8 329.9,88.4 332.1,88.7 334.3,88.2 336.5,88.4 338.7,88.3 340.9,87.8 343.1,87.5 345.2,88.0 347.4,88.3 349.5,88.4 351.7,90.0 353.8,89.1 356.0,90.3 358.2,90.3 360.3,90.9 362.5,91.6 364.6,92.1 366.6,93.0 368.7,93.0 370.8,93.8 373.0,94.6 375.2,94.1 377.4,94.0 379.6,93.9 381.8,94.8 384.0,94.4 386.2,94.4 388.4,93.4 390.6,93.5 392.8,92.9 395.0,93.3 397.2,93.4 399.4,92.3 401.6,93.0 403.7,93.3 405.9,93.4 408.0,93.3 410.2,95.0 412.3,95.0 414.5,95.3 416.6,96.2 418.7,96.7 420.9,97.7 423.0,97.5 425.1,98.9 427.3,99.3 429.5,99.3 431.7,98.7 433.9,98.5 436.1,99.2 438.2,98.3 440.3,97.6 442.5,97.5 444.6,96.3 446.8,95.5 449.0,96.1 451.2,95.5 453.4,96.3 455.6,95.9 457.8,95.3 460.0,95.1 462.1,95.1 464.3,94.5 466.4,94.2 468.5,92.9 470.5,92.6 472.6,92.0 474.8,92.0 477.0,91.2 479.2,91.7 481.4,90.8 483.6,91.3 485.8,91.2 488.0,92.5 490.2,91.9 492.4,92.7 494.6,93.1 496.7,93.5 498.9,93.8 501.1,94.5 503.3,95.3 505.5,95.0 507.7,95.4 509.8,95.8 512.0,95.7 514.2,95.5 516.2,94.8 518.2,94.4 520.1,92.4 522.1,91.7 523.9,91.1 525.8,89.8 527.7,88.4 529.6,87.6 531.8,87.2 534.0,86.7 536.2,86.4 538.3,87.0 540.4,88.4 542.6,88.0 544.8,88.1 547.0,88.4 549.1,88.4 551.3,89.5 553.4,89.8 555.5,91.0 557.6,90.6 559.8,92.0 561.9,92.1 564.1,92.0 566.3,93.3 568.5,92.8 570.7,91.9 572.9,92.2 575.1,92.4 577.3,92.0 579.5,92.3 581.7,92.2 583.9,92.0 586.1,91.8 588.3,92.0 590.5,91.7 592.7,91.6 594.9,90.7 597.1,91.7 599.3,91.9 601.5,91.3 603.8,91.4 606.0,92.3 608.2,91.1 610.4,92.0 612.6,92.8 614.8,91.8 617.0,92.5 619.1,93.4 621.2,93.3 623.4,94.2 625.5,94.7 627.7,94.3 629.7,94.3 631.3,92.9 632.9,91.5 634.7,89.9 636.5,88.7 638.5,88.6 640.6,89.5 642.5,91.0 644.2,92.1 645.3,93.6 646.5,95.6 647.7,98.6 648.8,98.2 649.5,96.0 650.2,92.8 650.9,91.8 651.3,89.6 651.5,87.8 651.8,85.2 652.0,82.8 652.3,80.8 652.5,77.7 652.8,76.6 653.0,74.2 653.4,71.6 653.7,70.1 654.0,68.1 654.3,65.3"/>
</g>
<g font-size="28" fill="#262626"><text x="122.8" y="496.6" text-anchor="middle">0</text><text x="229.1" y="496.6" text-anchor="middle">1000</text><text x="335.4" y="496.6" text-anchor="middle">2000</text><text x="441.6" y="496.6" text-anchor="middle">3000</text><text x="547.9" y="496.6" text-anchor="middle">4000</text><text x="654.2" y="496.6" text-anchor="middle">5000</text><text x="112.6" y="470.0" text-anchor="end">-4000</text><text x="112.6" y="401.0" text-anchor="end">-2000</text><text x="112.6" y="332.0" text-anchor="end">0</text><text x="112.6" y="263.0" text-anchor="end">2000</text><text x="112.6" y="194.0" text-anchor="end">4000</text><text x="112.6" y="125.0" text-anchor="end">6000</text><text x="112.6" y="56.0" text-anchor="end">8000</text></g>
<text x="389.4" y="535.7" text-anchor="middle" font-size="28.8" letter-spacing="0.85" fill="#262626">episodes</text>
<text transform="translate(30.0,250.2) rotate(-90)" text-anchor="middle" font-size="28.8" letter-spacing="0.85" fill="#262626">reward</text>
<text x="390.2" y="31.4" text-anchor="middle" font-size="29.3" letter-spacing="0.72" font-weight="bold" fill="#000">Episode rewards</text>
<rect x="325.3" y="348" width="323.8" height="102.3" fill="#fff" stroke="#262626" stroke-width="1.1"/>
<g stroke-width="4">
<path d="M330.2 366.3H382.1" stroke="#f00"/>
<path d="M330.2 399.5H382.1" stroke="#00f"/>
<path d="M330.2 432.3H382.1" stroke="#0f0"/>
</g>
<g font-size="25.2" fill="#000">
<text x="384.5" y="375.6">DDPG</text>
<text x="384.5" y="408.8">DDPG+SC</text>
<text x="384.5" y="441.8">DDPG+SC (no penalty)</text>
</g>
</svg>
</body></html>
